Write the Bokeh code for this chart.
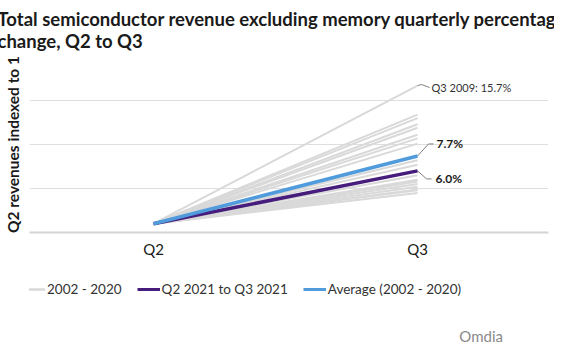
from bokeh.plotting import figure
from bokeh.layouts import column
from bokeh.models import (Range1d, FixedTicker, Legend, LegendItem, Label, ColumnDataSource)
from bokeh.embed import file_html
from bokeh.resources import INLINE

# ---- data ----
quarters = ["Q2", "Q3"]
# Q2 -> Q3 percentage change, one value per year 2002-2020
hist_growth = [15.7, 12.4, 12.0, 11.3, 10.9, 10.1, 9.7, 9.1, 7.2, 6.7,
               6.0, 5.5, 5.0, 4.8, 4.5, 4.2, 3.9, 3.8, 3.5]
growth_2021 = 6.0
growth_avg = 7.7
peak_label = "Q3 2009: 15.7%"
series_names = ["2002 - 2020", "Q2 2021 to Q3 2021", "Average (2002 - 2020)"]
y_ticks = [0.99, 1.04, 1.09, 1.14, 1.19]

FONT = "Lato"
C_HIST, C_2021, C_AVG = "#d9d9d9", "#461c7c", "#4f9bdc"

p = figure(frame_width=519, frame_height=176, output_backend="svg", toolbar_location=None,
           x_range=Range1d(-0.470, 1.496), y_range=Range1d(0.99, 1.19),
           min_border_left=25, min_border_right=6, min_border_top=0, min_border_bottom=0)
p.outline_line_color = None
p.border_fill_color = "white"

# title
p.title.text = "Total semiconductor revenue excluding memory quarterly percentage\nchange, Q2 to Q3"
p.title.text_font = FONT
p.title.text_font_size = "18.5px"
p.title.text_font_style = "bold"
p.title.text_color = "#1a1a1a"
p.title.align = "left"
p.title.offset = -32

# y axis: only its label is shown
p.yaxis.ticker = FixedTicker(ticks=y_ticks)
p.yaxis.major_label_overrides = {t: "" for t in y_ticks}
p.yaxis.major_tick_line_color = None
p.yaxis.minor_tick_line_color = None
p.yaxis.axis_line_color = None
p.yaxis.major_label_standoff = 0
p.yaxis.axis_label = "Q2 revenues indexed to 1"
p.yaxis.axis_label_text_font = FONT
p.yaxis.axis_label_text_font_size = "15.5px"
p.yaxis.axis_label_text_font_style = "bold"
p.yaxis.axis_label_text_color = "#1a1a1a"
p.yaxis.axis_label_standoff = 2
p.ygrid.grid_line_color = "#dedede"
p.ygrid.grid_line_width = 1
p.xgrid.grid_line_color = None

# x axis
p.xaxis.ticker = FixedTicker(ticks=[0, 1])
p.xaxis.major_label_overrides = {0: quarters[0], 1: quarters[1]}
p.xaxis.major_tick_line_color = None
p.xaxis.minor_tick_line_color = None
p.xaxis.axis_line_color = "#d4d4d4"
p.xaxis.axis_line_width = 2
p.xaxis.major_label_text_font = FONT
p.xaxis.major_label_text_font_size = "15px"
p.xaxis.major_label_text_color = "#1a1a1a"
p.xaxis.major_label_standoff = 1

# lines
xs = [[0, 1] for _ in hist_growth]
ys = [[1.0, 1 + g / 100] for g in hist_growth]
src = ColumnDataSource(dict(xs=xs, ys=ys))
p.multi_line("xs", "ys", source=src, line_color=C_HIST, line_width=2)
p.line([0, 1], [1.0, 1 + growth_2021 / 100], line_color=C_2021, line_width=3.5)
p.line([0, 1], [1.0, 1 + growth_avg / 100], line_color=C_AVG, line_width=3.5)

# leader lines + labels
pxx = 1 / 264.0
pxy = 0.2 / 176.0
peak = 1 + max(hist_growth) / 100
p.line([1, 1 + 4 * pxx, 1 + 12 * pxx], [peak, peak + 1 * pxy, peak - 2 * pxy],
       line_color="#7f7f7f", line_width=1)
p.add_layout(Label(x=1, y=peak, x_offset=14, y_offset=-2, text=peak_label,
                   text_font=FONT, text_font_size="11px", text_color="#333333",
                   text_baseline="middle"))
ya = 1 + growth_avg / 100
p.line([1, 1 + 11 * pxx, 1 + 16 * pxx], [ya, ya + 12 * pxy, ya + 12 * pxy],
       line_color="#7f7f7f", line_width=1)
p.add_layout(Label(x=1, y=ya, x_offset=19, y_offset=12, text=f"{growth_avg:.1f}%",
                   text_font=FONT, text_font_size="12px", text_font_style="bold",
                   text_color="#1a1a1a", text_baseline="middle"))
y21 = 1 + growth_2021 / 100
p.line([1, 1 + 9 * pxx, 1 + 14 * pxx], [y21, y21 - 8 * pxy, y21 - 8 * pxy],
       line_color="#7f7f7f", line_width=1)
p.add_layout(Label(x=1, y=y21, x_offset=18, y_offset=-8, text=f"{growth_2021:.1f}%",
                   text_font=FONT, text_font_size="12px", text_font_style="bold",
                   text_color="#1a1a1a", text_baseline="middle"))

# ---- legend strip (second figure underneath) ----
LW, LH = 560, 85
q = figure(width=LW, height=LH, output_backend="svg", toolbar_location=None,
           x_range=Range1d(0, LW), y_range=Range1d(0, LH),
           x_axis_location=None, y_axis_location=None,
           min_border=0)
q.grid.visible = False
q.outline_line_color = None
q.border_fill_color = "white"
# swatch-only renderers (their points lie outside the visible strip)
off = [-50, -40]
k1 = q.line(x=off, y=off, line_color=C_HIST, line_width=2.5)
k2 = q.line(x=off, y=off, line_color=C_2021, line_width=3)
k3 = q.line(x=off, y=off, line_color=C_AVG, line_width=3)
legend = Legend(items=[LegendItem(label=series_names[0], renderers=[k1]),
                       LegendItem(label=series_names[1], renderers=[k2]),
                       LegendItem(label=series_names[2], renderers=[k3])],
                orientation="horizontal", location=(-7, 48),
                label_text_font=FONT, label_text_font_size="13.5px", label_text_color="#333333",
                glyph_width=23, glyph_height=14, spacing=15, label_standoff=2,
                border_line_color=None, background_fill_alpha=0, margin=0, padding=0)
q.add_layout(legend, "center")
q.add_layout(Label(x=505, y=10, text="Omdia", text_font=FONT, text_font_size="15px",
                   text_color="#8a8a8a", text_align="right", text_baseline="middle"))

layout = column(p, q, spacing=0)
open("out.html", "w").write(file_html(layout, INLINE))
